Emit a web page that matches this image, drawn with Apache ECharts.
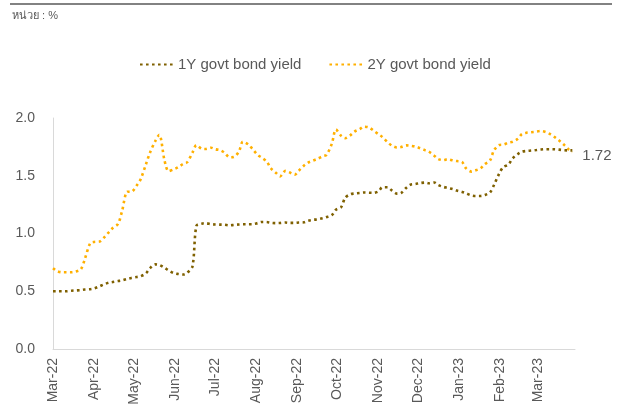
<!DOCTYPE html>
<html lang="th">
<head>
    <meta charset="UTF-8">
    <title>Govt bond yield</title>
    <script src="https://cdn.jsdelivr.net/npm/echarts@6/dist/echarts.min.js"></script>
    <style>
        html, body { margin: 0; padding: 0; background: #fff; }
    </style>
</head>
<body>
<div id="chart" style="width: 624px;height: 414px"></div>

<script>
    // semi-weekly observations (Tue / Fri)
    const dates = [
        '2022-03-01', '2022-03-04', '2022-03-08', '2022-03-11', '2022-03-15', '2022-03-18', '2022-03-22', '2022-03-25',
        '2022-03-29', '2022-04-01', '2022-04-05', '2022-04-08', '2022-04-12', '2022-04-15', '2022-04-19', '2022-04-22',
        '2022-04-26', '2022-04-29', '2022-05-03', '2022-05-06', '2022-05-10', '2022-05-13', '2022-05-17', '2022-05-20',
        '2022-05-24', '2022-05-27', '2022-05-31', '2022-06-03', '2022-06-07', '2022-06-10', '2022-06-14', '2022-06-17',
        '2022-06-21', '2022-06-24', '2022-06-28', '2022-07-01', '2022-07-05', '2022-07-08', '2022-07-12', '2022-07-15',
        '2022-07-19', '2022-07-22', '2022-07-26', '2022-07-29', '2022-08-02', '2022-08-05', '2022-08-09', '2022-08-12',
        '2022-08-16', '2022-08-19', '2022-08-23', '2022-08-26', '2022-08-30', '2022-09-02', '2022-09-06', '2022-09-09',
        '2022-09-13', '2022-09-16', '2022-09-20', '2022-09-23', '2022-09-27', '2022-09-30', '2022-10-04', '2022-10-07',
        '2022-10-11', '2022-10-14', '2022-10-18', '2022-10-21', '2022-10-25', '2022-10-28', '2022-11-01', '2022-11-04',
        '2022-11-08', '2022-11-11', '2022-11-15', '2022-11-18', '2022-11-22', '2022-11-25', '2022-11-29', '2022-12-02',
        '2022-12-06', '2022-12-09', '2022-12-13', '2022-12-16', '2022-12-20', '2022-12-23', '2022-12-27', '2022-12-30',
        '2023-01-03', '2023-01-06', '2023-01-10', '2023-01-13', '2023-01-17', '2023-01-20', '2023-01-24', '2023-01-27',
        '2023-01-31', '2023-02-03', '2023-02-07', '2023-02-10', '2023-02-14', '2023-02-17', '2023-02-21', '2023-02-24',
        '2023-02-28', '2023-03-03', '2023-03-07', '2023-03-10', '2023-03-14', '2023-03-17', '2023-03-21', '2023-03-24',
        '2023-03-27'
    ];

    const yield1Y = [
        0.500, 0.500, 0.500, 0.500, 0.505, 0.507, 0.510, 0.515,
        0.518, 0.525, 0.542, 0.558, 0.574, 0.580, 0.588, 0.594,
        0.607, 0.615, 0.623, 0.630, 0.655, 0.700, 0.733, 0.728,
        0.703, 0.680, 0.657, 0.650, 0.645, 0.660, 0.715, 1.067,
        1.085, 1.089, 1.081, 1.078, 1.077, 1.076, 1.070, 1.074,
        1.078, 1.080, 1.080, 1.080, 1.090, 1.100, 1.099, 1.093,
        1.090, 1.091, 1.095, 1.092, 1.092, 1.095, 1.097, 1.110,
        1.119, 1.122, 1.132, 1.142, 1.160, 1.205, 1.230, 1.310,
        1.340, 1.346, 1.351, 1.355, 1.353, 1.352, 1.365, 1.400,
        1.400, 1.374, 1.345, 1.350, 1.396, 1.422, 1.429, 1.436,
        1.441, 1.435, 1.442, 1.420, 1.403, 1.395, 1.384, 1.372,
        1.360, 1.348, 1.330, 1.325, 1.325, 1.333, 1.355, 1.420,
        1.520, 1.575, 1.598, 1.650, 1.688, 1.708, 1.715, 1.718,
        1.723, 1.727, 1.730, 1.730, 1.729, 1.726, 1.721, 1.720,
        1.720
    ];

    const yield2Y = [
        0.700, 0.675, 0.664, 0.664, 0.664, 0.670, 0.690, 0.780,
        0.915, 0.927, 0.930, 0.960, 1.010, 1.047, 1.083, 1.195,
        1.362, 1.362, 1.415, 1.470, 1.600, 1.700, 1.800, 1.855,
        1.630, 1.540, 1.556, 1.572, 1.603, 1.617, 1.700, 1.765,
        1.734, 1.732, 1.743, 1.730, 1.720, 1.700, 1.660, 1.662,
        1.710, 1.795, 1.772, 1.735, 1.682, 1.658, 1.622, 1.565,
        1.523, 1.495, 1.542, 1.530, 1.509, 1.543, 1.588, 1.613,
        1.632, 1.646, 1.668, 1.682, 1.780, 1.900, 1.845, 1.825,
        1.852, 1.882, 1.904, 1.925, 1.918, 1.893, 1.860, 1.835,
        1.790, 1.762, 1.745, 1.748, 1.763, 1.760, 1.752, 1.740,
        1.722, 1.708, 1.674, 1.645, 1.635, 1.643, 1.633, 1.627,
        1.619, 1.564, 1.536, 1.546, 1.565, 1.600, 1.632, 1.720,
        1.766, 1.770, 1.787, 1.795, 1.820, 1.860, 1.874, 1.877,
        1.882, 1.888, 1.878, 1.862, 1.832, 1.806, 1.765, 1.730,
        1.705
    ];

    const monthTicks = [
        '2022-03-01', '2022-04-01', '2022-05-01', '2022-06-01', '2022-07-01', '2022-08-01', '2022-09-01',
        '2022-10-01', '2022-11-01', '2022-12-01', '2023-01-01', '2023-02-01', '2023-03-01'
    ];
    const monthLabels = [
        'Mar-22', 'Apr-22', 'May-22', 'Jun-22', 'Jul-22', 'Aug-22', 'Sep-22',
        'Oct-22', 'Nov-22', 'Dec-22', 'Jan-23', 'Feb-23', 'Mar-23'
    ];
    const axisEnd = '2023-03-29';
    const yTicks = [0, 0.5, 1.0, 1.5, 2.0];

    const seriesNames = ['1Y govt bond yield', '2Y govt bond yield'];
    const seriesColors = ['#7F6000', '#FFB000'];

    const font = '"Liberation Sans", Arial, sans-serif';
    const toTime = d => Date.parse(d + 'T00:00:00Z');
    const tickTimes = monthTicks.map(toTime);

    function pairs(vals) {
        return vals.map((v, i) => [toTime(dates[i]), v]);
    }

    let chart = echarts.init(document.getElementById('chart'));

    let option = {
        animation: false,
        textStyle: {fontFamily: font},
        graphic: [
            {
                type: 'line',
                shape: {x1: 10, y1: 4, x2: 612, y2: 4},
                style: {stroke: '#595959', lineWidth: 1.5}
            },
            {
                type: 'text',
                left: 12,
                top: 10,
                style: {text: 'หน่วย : %', fill: '#595959', fontSize: 11, fontFamily: font}
            }
        ],
        legend: {
            left: 134,
            top: 52,
            itemWidth: 33,
            itemHeight: 12,
            itemGap: 27,
            itemStyle: {opacity: 0},
            textStyle: {fontSize: 15, color: '#595959', fontFamily: font},
            data: seriesNames
        },
        grid: {
            left: 53,
            right: 49,
            top: 118,
            bottom: 65,
            outerBoundsMode: 'none'
        },
        xAxis: {
            type: 'value',
            min: tickTimes[0],
            max: toTime(axisEnd),
            splitLine: {show: false},
            axisTick: {show: false},
            axisLine: {lineStyle: {color: '#D9D9D9', width: 1}},
            axisLabel: {
                customValues: tickTimes,
                rotate: 90,
                margin: 9,
                fontSize: 14,
                color: '#595959',
                fontFamily: font,
                formatter: function (val) {
                    let i = tickTimes.indexOf(+val);
                    return i >= 0 ? monthLabels[i] : '';
                }
            }
        },
        yAxis: {
            type: 'value',
            min: yTicks[0],
            max: yTicks[yTicks.length - 1],
            interval: 0.5,
            splitLine: {show: false},
            axisTick: {show: false},
            axisLine: {show: true, lineStyle: {color: '#D9D9D9', width: 1}},
            axisLabel: {
                margin: 18,
                fontSize: 14,
                color: '#595959',
                fontFamily: font,
                formatter: v => v.toFixed(1)
            }
        },
        series: seriesNames.map((name, s) => ({
            name: name,
            type: 'line',
            data: pairs(s === 0 ? yield1Y : yield2Y),
            symbol: 'none',
            smooth: 0.3,
            color: seriesColors[s],
            lineStyle: {
                color: seriesColors[s],
                width: 2.6,
                type: [2.6, 3.4]
            },
            endLabel: {
                show: s === 0,
                formatter: p => p.value[1].toFixed(2),
                color: '#595959',
                fontSize: 15,
                fontFamily: font,
                distance: 10,
                offset: [0, 6]
            },
            z: s === 0 ? 3 : 2
        }))
    };
    chart.setOption(option);
</script>
</body>
</html>
